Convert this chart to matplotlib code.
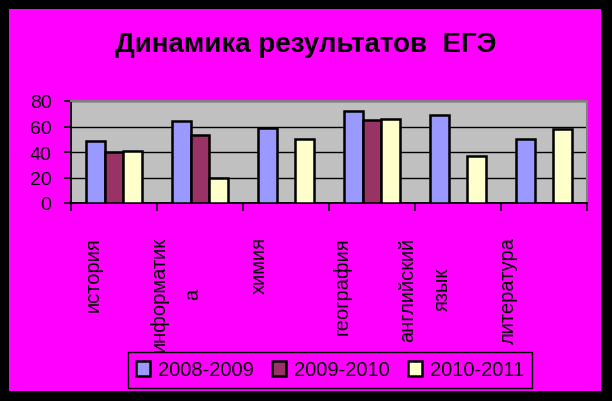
import numpy as np
import matplotlib
matplotlib.use("Agg")
import matplotlib.pyplot as plt
from matplotlib.patches import Rectangle
import matplotlib.transforms as mtrans

plt.rcParams['font.family'] = ['Liberation Sans', 'DejaVu Sans']

# data
subjects = ["история", "информатик\nа", "химия", "география", "английский\nязык", "литература"]
years = ["2008-2009", "2009-2010", "2010-2011"]
y0809 = [49, 64, 59, 72, 69, 50]
y0910 = [40, 53, np.nan, 65, np.nan, np.nan]
y1011 = [41, 20, 50, 66, 37, 58]
colors = ["#9999FF", "#993366", "#FFFFCC"]
yticks = [0, 20, 40, 60, 80]

MAG = "#FF00FF"

fig = plt.figure(figsize=(6.12, 4.02), dpi=100, facecolor="black")
fig.patches.append(Rectangle((9/612, 10/402), 592/612, 382/402, transform=fig.transFigure,
                             facecolor=MAG, edgecolor="none", zorder=-5))

ax = fig.add_axes([71/612, 1 - 204/402, 516/612, 102/402])
ax.set_facecolor("#C0C0C0")

x = np.arange(len(subjects)) + 0.5
w = 0.22
for k, (vals, c, lab) in enumerate(zip([y0809, y0910, y1011], colors, years)):
    ax.bar(x + (k - 1) * w, vals, width=w, color=c, edgecolor="black", linewidth=1.8,
           label=lab, zorder=3)

ax.set_xlim(0, len(subjects))
ax.set_ylim(0, 80)
ax.set_yticks(yticks)
ax.set_yticklabels([str(t) for t in yticks], fontsize=14)
ax.yaxis.grid(True, color="black", linewidth=1.0, zorder=1)
ax.set_axisbelow(True)

ax.set_xticks(np.arange(len(subjects) + 1))
ax.set_xticklabels([])
ax.set_xticks(x, minor=True)
ax.set_xticklabels(subjects, minor=True, rotation=90, fontsize=14.5, va="top",
                   ha="center", linespacing=2.0)
ax.tick_params(axis="x", which="minor", length=0, pad=24)
ax.tick_params(axis="x", which="major", length=6, width=1.2, color="black", direction="out")
ax.tick_params(axis="y", length=5, width=1.2, color="black", direction="out", pad=9)

for i, t in enumerate(ax.get_xticklabels(minor=True)):
    off = mtrans.ScaledTranslation((-21 - 3 * i) / 100, 0, fig.dpi_scale_trans)
    t.set_transform(t.get_transform() + off)

for s in ["left", "bottom"]:
    ax.spines[s].set_color("black")
    ax.spines[s].set_linewidth(1.3)
for s in ["top", "right"]:
    ax.spines[s].set_color("#808080")
    ax.spines[s].set_linewidth(1.5)

fig.text(306/612, 1 - 45/402, "Динамика результатов  ЕГЭ", fontsize=20, fontweight="bold",
         ha="center", va="center")

leg = fig.legend(loc="center", bbox_to_anchor=(330/612, 1 - 371/402), ncol=3, fontsize=14.5,
                 frameon=True, fancybox=False, facecolor=MAG, edgecolor="black", framealpha=1,
                 handlelength=0.7, handleheight=0.7, handletextpad=0.4, columnspacing=0.9,
                 borderpad=0.4)
leg.get_frame().set_linewidth(1.0)
leg.set_zorder(10)

fig.savefig("out.png", dpi=100, facecolor=fig.get_facecolor())
